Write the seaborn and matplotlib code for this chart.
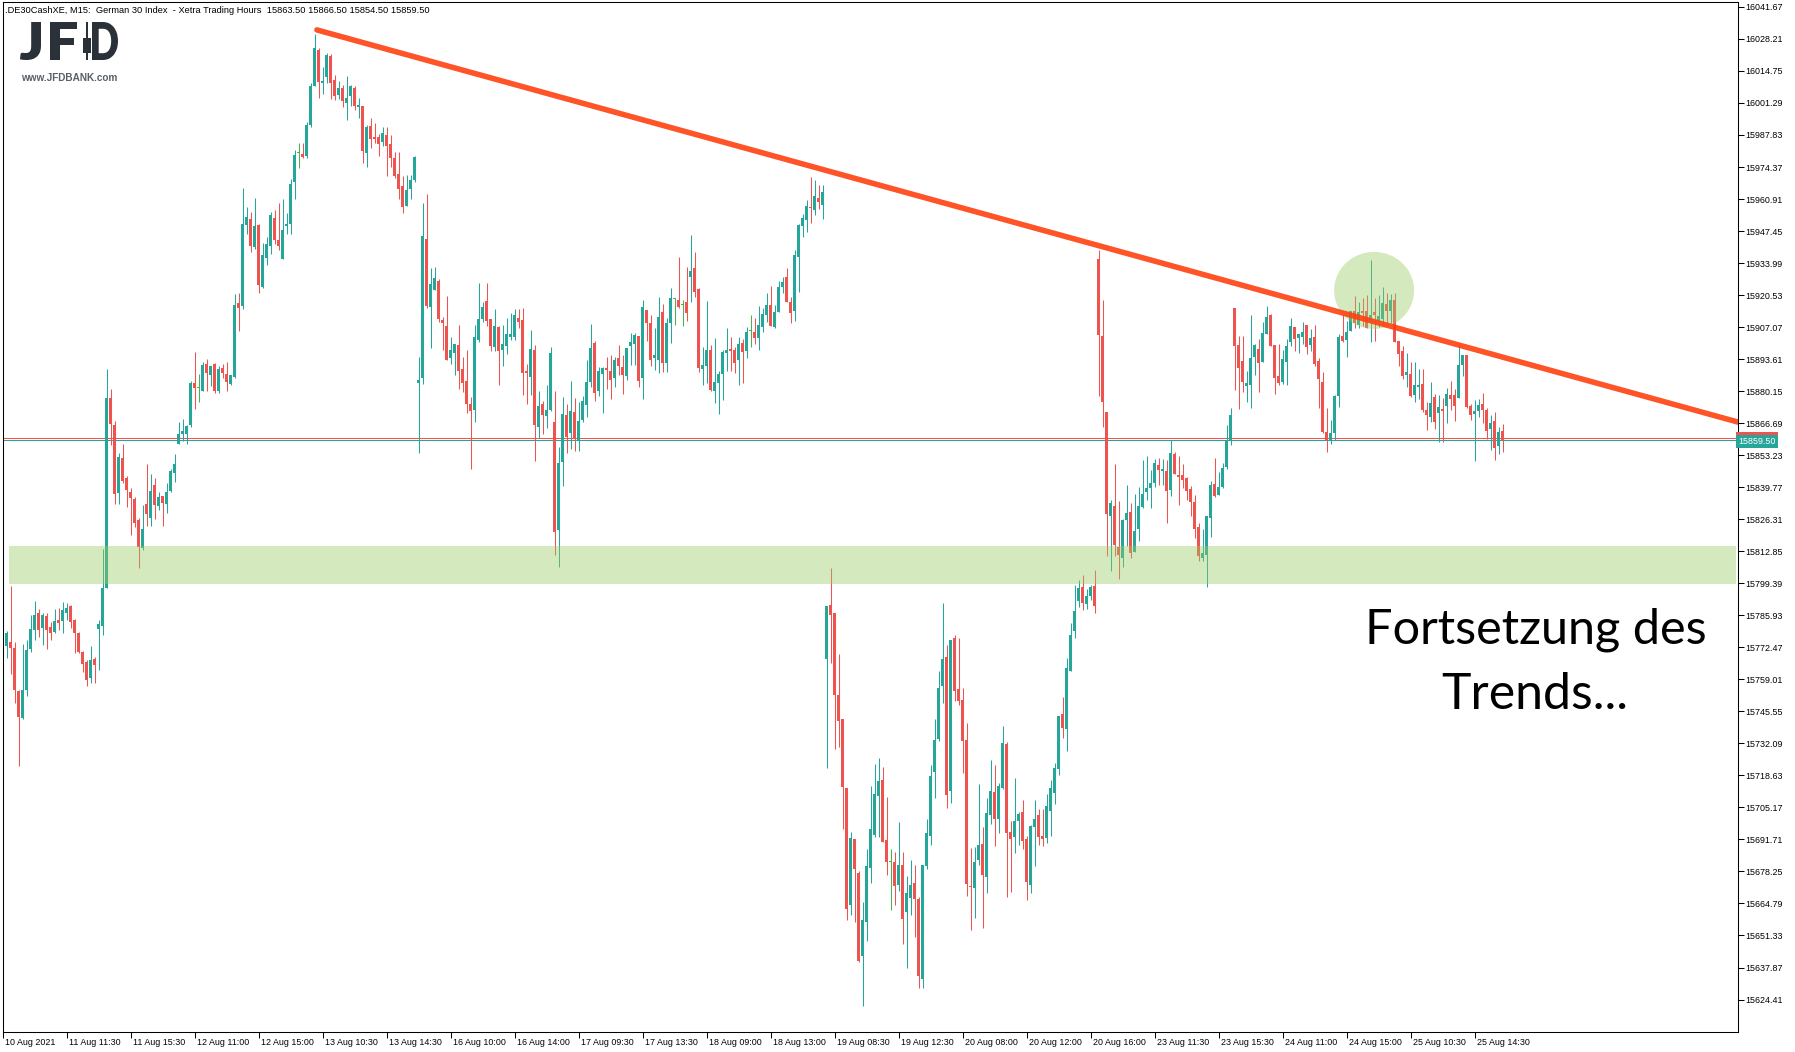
import numpy as np
import pandas as pd
import matplotlib
matplotlib.use("Agg")
import matplotlib.pyplot as plt
import seaborn as sns
from matplotlib.patches import Ellipse, Rectangle, PathPatch
from matplotlib.transforms import (ScaledTranslation, blended_transform_factory,
                                   Affine2D, IdentityTransform)
from matplotlib.textpath import TextPath
from matplotlib.font_manager import FontProperties

# ---- M15 candles, German 30 (Xetra hours) ----
opens = [
    15782.3, 15773.2, 15774.7, 15772.2, 15754.1, 15742.9, 15754.7, 15771.8, 15779.9, 15786.9,
    15780.7, 15785.8, 15781.0, 15778.9, 15784.1, 15783.7, 15786.9, 15789.8, 15784.1, 15778.6,
    15770.5, 15766.3, 15759.7, 15767.6, 15780.2, 15781.4, 15797.5, 15877.3, 15865.9, 15837.5,
    15852.0, 15843.6, 15837.8, 15834.8, 15826.0, 15814.4, 15832.9, 15827.0, 15840.7, 15832.0,
    15836.1, 15832.9, 15838.3, 15845.9, 15858.1, 15862.3, 15862.3, 15865.9, 15883.6, 15881.3,
    15880.4, 15891.6, 15887.1, 15891.4, 15880.2, 15889.9, 15887.4, 15883.2, 15886.1, 15917.2,
    15915.9, 15950.0, 15952.5, 15940.7, 15950.0, 15923.9, 15936.1, 15941.2, 15952.9, 15943.7,
    15935.7, 15949.6, 15950.4, 15968.1, 15980.4, 15979.8, 15979.0, 15992.0, 16008.4, 16023.6,
    16009.7, 16012.2, 16021.0, 16010.9, 16004.6, 16007.6, 16001.3, 16004.2, 16007.6, 15999.6,
    16000.0, 15980.3, 15991.6, 15987.0, 15987.0, 15984.9, 15987.8, 15984.0, 15978.2, 15971.4,
    15966.4, 15958.0, 15965.1, 15968.9, 15883.7, 15885.7, 15944.1, 15915.7, 15922.8, 15926.5,
    15910.1, 15907.5, 15894.2, 15896.3, 15899.5, 15889.5, 15884.4, 15874.7, 15872.4, 15901.7,
    15910.5, 15918.0, 15910.5, 15898.8, 15907.1, 15897.6, 15899.1, 15903.1, 15903.1, 15911.0,
    15910.1, 15888.6, 15886.2, 15897.4, 15865.2, 15874.7, 15869.8, 15872.4, 15867.2, 15821.9,
    15850.5, 15870.1, 15862.7, 15871.4, 15859.8, 15868.0, 15874.5, 15884.1, 15900.4, 15880.4,
    15887.5, 15889.9, 15888.6, 15885.8, 15894.1, 15890.4, 15886.7, 15899.3, 15900.1, 15903.3,
    15885.8, 15914.4, 15908.8, 15893.9, 15893.2, 15913.5, 15891.8, 15908.8, 15918.8, 15918.3,
    15916.4, 15917.6, 15928.0, 15931.9, 15923.1, 15889.5, 15890.9, 15897.5, 15880.3, 15883.5,
    15887.2, 15896.2, 15897.8, 15897.5, 15893.2, 15900.5, 15896.9, 15905.4, 15904.9, 15902.4,
    15907.2, 15912.1, 15916.4, 15907.2, 15913.5, 15923.8, 15928.2, 15917.6, 15913.7, 15936.5,
    15949.4, 15952.2, 15957.5, 15956.1, 15961.4, 15958.6, 15767.7, 15790.3, 15786.9, 15752.3,
    15742.4, 15713.3, 15664.0, 15691.9, 15677.6, 15642.6, 15657.2, 15679.8, 15693.4, 15710.1,
    15716.8, 15691.5, 15682.3, 15682.1, 15672.5, 15680.9, 15661.4, 15667.1, 15673.3, 15666.7,
    15633.2, 15680.5, 15693.0, 15720.2, 15734.0, 15756.4, 15768.5, 15712.2, 15776.4, 15754.9,
    15750.5, 15733.4, 15672.3, 15671.5, 15683.0, 15689.9, 15676.1, 15701.8, 15711.6, 15700.3,
    15713.5, 15731.9, 15694.9, 15692.8, 15699.5, 15703.2, 15692.0, 15672.7, 15697.0, 15702.0,
    15693.0, 15692.2, 15703.5, 15711.4, 15721.2, 15744.4, 15738.0, 15762.6, 15779.4, 15792.0,
    15798.0, 15790.5, 15794.0, 15798.3, 15935.7, 15903.2, 15871.4, 15827.8, 15831.9, 15814.6,
    15810.2, 15826.0, 15829.3, 15812.7, 15822.3, 15831.6, 15837.9, 15839.4, 15841.5, 15849.1,
    15846.6, 15846.6, 15838.7, 15853.7, 15844.9, 15844.9, 15843.6, 15839.2, 15833.6, 15823.2,
    15810.2, 15811.3, 15827.0, 15841.1, 15836.5, 15839.9, 15848.3, 15859.2, 15915.1, 15899.5,
    15892.8, 15882.5, 15882.9, 15894.4, 15897.9, 15892.4, 15904.2, 15912.2, 15899.5, 15886.7,
    15884.1, 15892.4, 15900.9, 15907.1, 15902.5, 15902.9, 15908.0, 15899.5, 15902.9, 15892.8,
    15884.0, 15863.0, 15859.6, 15862.7, 15878.2, 15903.3, 15901.6, 15905.4, 15913.8, 15908.0,
    15913.8, 15913.8, 15910.1, 15913.4, 15909.5, 15910.5, 15916.8, 15913.8, 15918.5, 15901.2,
    15897.0, 15887.1, 15887.4, 15878.5, 15881.9, 15883.2, 15872.2, 15869.1, 15877.7, 15871.0,
    15872.6, 15873.9, 15878.7, 15878.7, 15877.3, 15891.1, 15895.3, 15873.9, 15870.5, 15871.7,
    15874.7, 15872.2, 15864.2, 15867.6, 15857.1, 15863.5,
]
highs = [
    15782.5, 15779.3, 15798.2, 15774.7, 15754.5, 15773.9, 15775.5, 15786.1, 15791.9, 15788.6,
    15786.9, 15786.9, 15783.1, 15788.6, 15789.0, 15791.5, 15791.1, 15790.1, 15784.4, 15779.0,
    15770.9, 15767.1, 15773.2, 15768.4, 15784.1, 15813.8, 15889.5, 15881.1, 15867.6, 15854.2,
    15857.9, 15844.6, 15839.4, 15835.8, 15827.0, 15832.4, 15849.5, 15845.3, 15843.6, 15837.8,
    15836.1, 15841.5, 15847.3, 15853.7, 15867.2, 15868.4, 15865.9, 15884.4, 15896.6, 15887.4,
    15892.4, 15893.7, 15890.7, 15891.8, 15890.7, 15891.4, 15892.4, 15886.9, 15921.0, 15921.4,
    15965.5, 15957.6, 15955.5, 15961.3, 15950.4, 15942.4, 15944.9, 15955.5, 15956.3, 15959.2,
    15960.9, 15955.0, 15969.3, 15981.5, 15984.5, 15984.5, 15993.3, 16009.7, 16030.3, 16024.4,
    16016.4, 16022.3, 16021.9, 16013.0, 16010.5, 16008.8, 16012.6, 16008.8, 16008.4, 16003.4,
    16000.0, 15992.0, 15995.0, 15992.9, 15988.2, 15991.2, 15991.2, 15987.8, 15980.7, 15980.7,
    15970.6, 15971.0, 15971.0, 15979.0, 15894.5, 15959.2, 15963.0, 15931.9, 15932.3, 15927.3,
    15911.3, 15920.1, 15902.9, 15900.0, 15908.0, 15894.5, 15897.4, 15877.7, 15908.0, 15925.6,
    15917.6, 15925.6, 15910.5, 15914.7, 15907.5, 15908.0, 15910.9, 15913.0, 15914.7, 15914.7,
    15915.1, 15891.6, 15905.9, 15899.5, 15880.2, 15876.0, 15882.7, 15898.7, 15880.2, 15856.7,
    15877.7, 15874.9, 15884.4, 15877.3, 15875.7, 15878.1, 15893.2, 15908.4, 15901.2, 15890.3,
    15890.3, 15894.5, 15895.3, 15894.5, 15899.5, 15895.3, 15898.3, 15904.7, 15904.7, 15903.3,
    15918.5, 15914.4, 15912.3, 15906.5, 15919.7, 15916.7, 15910.9, 15923.6, 15919.2, 15936.5,
    15918.3, 15932.4, 15945.7, 15938.8, 15923.6, 15898.7, 15918.1, 15899.4, 15902.4, 15888.6,
    15897.3, 15906.8, 15902.8, 15898.7, 15902.8, 15902.2, 15907.2, 15912.1, 15910.9, 15916.0,
    15915.3, 15921.5, 15924.3, 15916.2, 15926.4, 15928.0, 15931.9, 15919.7, 15939.3, 15950.6,
    15954.5, 15960.3, 15970.2, 15969.0, 15966.7, 15966.7, 15789.9, 15805.8, 15786.9, 15769.6,
    15742.4, 15713.3, 15694.9, 15691.9, 15678.5, 15665.6, 15687.6, 15714.3, 15723.3, 15726.0,
    15722.1, 15709.5, 15687.8, 15686.5, 15699.1, 15686.5, 15676.3, 15683.2, 15681.1, 15667.7,
    15681.1, 15700.1, 15723.1, 15742.3, 15762.4, 15790.9, 15773.5, 15775.4, 15777.7, 15776.4,
    15755.3, 15740.7, 15688.2, 15688.6, 15715.2, 15696.8, 15709.1, 15725.2, 15723.1, 15715.6,
    15739.4, 15732.5, 15699.5, 15717.7, 15703.2, 15708.3, 15693.2, 15697.8, 15708.3, 15704.3,
    15704.3, 15710.8, 15716.6, 15723.7, 15743.6, 15751.5, 15768.1, 15782.7, 15798.8, 15800.8,
    15802.9, 15797.0, 15798.7, 15805.0, 15939.5, 15918.5, 15871.4, 15834.4, 15849.5, 15834.0,
    15826.4, 15840.7, 15833.1, 15836.9, 15839.9, 15851.2, 15852.9, 15847.0, 15851.6, 15852.0,
    15851.6, 15851.2, 15859.6, 15854.6, 15852.9, 15849.5, 15844.1, 15840.4, 15836.5, 15824.9,
    15822.2, 15827.7, 15842.4, 15852.0, 15846.2, 15849.9, 15865.9, 15873.1, 15915.1, 15903.3,
    15903.3, 15888.6, 15912.2, 15900.0, 15902.1, 15909.2, 15915.9, 15912.6, 15899.5, 15900.0,
    15897.4, 15902.1, 15910.8, 15907.1, 15904.2, 15909.2, 15908.0, 15906.3, 15908.0, 15894.1,
    15888.2, 15873.1, 15868.0, 15878.5, 15904.2, 15912.2, 15909.6, 15913.8, 15920.1, 15917.6,
    15919.3, 15920.6, 15935.3, 15919.3, 15920.6, 15923.9, 15921.4, 15921.0, 15921.4, 15901.2,
    15899.1, 15896.2, 15892.4, 15892.4, 15889.5, 15889.5, 15875.6, 15884.0, 15878.9, 15878.5,
    15877.3, 15881.5, 15884.4, 15881.2, 15900.1, 15895.3, 15895.3, 15874.6, 15876.4, 15876.8,
    15879.4, 15873.1, 15870.0, 15871.4, 15865.1, 15866.5,
]
lows = [
    15771.6, 15768.1, 15761.1, 15748.9, 15722.7, 15742.5, 15752.1, 15770.6, 15775.7, 15776.7,
    15773.6, 15771.9, 15775.7, 15778.5, 15779.9, 15778.5, 15784.1, 15780.7, 15770.1, 15770.1,
    15762.1, 15756.3, 15757.5, 15757.5, 15762.9, 15777.8, 15797.5, 15857.5, 15832.9, 15832.9,
    15841.7, 15831.6, 15819.8, 15823.2, 15805.9, 15813.5, 15823.6, 15823.6, 15826.5, 15830.2,
    15823.6, 15828.9, 15837.8, 15842.0, 15858.1, 15859.2, 15858.1, 15865.1, 15872.8, 15875.7,
    15880.4, 15880.4, 15882.3, 15879.2, 15879.2, 15885.8, 15880.2, 15882.7, 15885.7, 15905.4,
    15914.7, 15946.2, 15938.6, 15939.9, 15921.4, 15923.5, 15933.2, 15937.8, 15942.0, 15939.5,
    15935.7, 15946.2, 15946.2, 15960.9, 15974.0, 15978.2, 15978.2, 15991.2, 16008.4, 16003.4,
    16005.1, 16009.7, 16003.0, 16002.5, 16003.0, 15999.6, 15994.1, 16000.0, 15998.3, 15995.0,
    15976.1, 15974.4, 15982.4, 15984.5, 15979.0, 15983.2, 15970.6, 15974.4, 15969.7, 15960.9,
    15955.0, 15958.0, 15960.9, 15968.1, 15854.1, 15883.2, 15915.1, 15898.4, 15922.7, 15909.2,
    15897.6, 15893.4, 15891.7, 15886.9, 15881.2, 15879.9, 15871.1, 15847.6, 15867.3, 15900.8,
    15909.4, 15907.5, 15897.2, 15897.2, 15882.9, 15890.9, 15895.9, 15901.7, 15901.8, 15906.8,
    15878.7, 15874.9, 15878.7, 15850.9, 15860.6, 15862.3, 15864.8, 15872.0, 15811.4, 15806.4,
    15840.4, 15854.3, 15856.0, 15855.1, 15855.1, 15867.3, 15869.4, 15882.0, 15876.2, 15878.1,
    15871.1, 15881.2, 15877.0, 15882.0, 15886.9, 15879.1, 15885.0, 15891.1, 15891.1, 15882.0,
    15877.0, 15901.2, 15890.9, 15889.0, 15887.6, 15888.3, 15888.3, 15900.3, 15908.1, 15915.1,
    15907.5, 15909.8, 15917.8, 15919.7, 15888.3, 15882.6, 15883.5, 15880.3, 15875.0, 15870.6,
    15876.6, 15888.8, 15888.8, 15887.9, 15882.6, 15883.5, 15893.9, 15898.7, 15899.9, 15897.5,
    15904.9, 15909.1, 15907.5, 15906.5, 15913.5, 15921.5, 15917.6, 15908.8, 15909.8, 15921.8,
    15944.8, 15947.1, 15950.8, 15954.0, 15956.8, 15952.6, 15721.6, 15765.7, 15729.9, 15730.4,
    15696.3, 15657.8, 15660.1, 15656.9, 15640.0, 15621.7, 15648.9, 15673.3, 15692.6, 15692.6,
    15690.7, 15676.7, 15662.1, 15664.1, 15670.0, 15647.8, 15637.8, 15660.0, 15650.5, 15629.4,
    15629.4, 15679.4, 15689.2, 15709.3, 15732.9, 15749.2, 15705.1, 15707.0, 15750.1, 15748.4,
    15719.8, 15668.1, 15653.7, 15658.7, 15681.1, 15654.3, 15669.2, 15698.0, 15689.0, 15694.3,
    15712.7, 15667.7, 15669.4, 15685.9, 15689.4, 15687.6, 15666.2, 15669.2, 15680.5, 15689.2,
    15688.8, 15690.1, 15693.0, 15706.4, 15718.7, 15734.4, 15729.0, 15762.4, 15776.2, 15789.5,
    15788.0, 15788.5, 15792.5, 15787.0, 15878.2, 15865.2, 15811.0, 15804.7, 15811.0, 15801.3,
    15806.4, 15815.2, 15810.2, 15812.7, 15817.0, 15831.2, 15834.5, 15831.2, 15839.9, 15840.7,
    15840.7, 15824.7, 15836.2, 15845.5, 15832.3, 15839.6, 15834.4, 15827.8, 15818.6, 15808.9,
    15808.9, 15798.0, 15818.8, 15835.7, 15836.5, 15839.4, 15847.4, 15857.5, 15880.8, 15872.6,
    15879.9, 15875.7, 15873.2, 15887.1, 15879.9, 15892.4, 15904.2, 15899.3, 15879.1, 15882.9,
    15883.3, 15882.9, 15899.1, 15897.0, 15896.2, 15900.0, 15895.8, 15897.0, 15890.7, 15873.1,
    15862.6, 15854.6, 15857.9, 15859.6, 15873.6, 15900.8, 15894.6, 15905.4, 15906.7, 15906.7,
    15907.5, 15906.7, 15900.8, 15901.2, 15907.3, 15908.0, 15908.0, 15908.8, 15900.8, 15890.7,
    15885.3, 15881.9, 15877.7, 15875.6, 15876.8, 15871.4, 15863.8, 15867.2, 15864.2, 15858.8,
    15858.8, 15866.8, 15872.2, 15867.6, 15877.3, 15886.5, 15873.1, 15868.0, 15850.8, 15869.3,
    15866.8, 15860.0, 15855.4, 15851.2, 15853.7, 15854.5,
]
closes = [
    15772.0, 15778.6, 15772.3, 15754.7, 15743.3, 15754.5, 15771.3, 15780.2, 15786.1, 15779.9,
    15786.1, 15779.9, 15778.5, 15783.5, 15782.7, 15788.2, 15789.0, 15783.1, 15778.5, 15770.5,
    15765.5, 15758.9, 15767.1, 15765.0, 15782.3, 15797.4, 15877.3, 15866.5, 15837.1, 15852.5,
    15842.5, 15838.7, 15835.4, 15824.9, 15814.8, 15822.2, 15828.6, 15838.2, 15832.4, 15835.7,
    15833.3, 15837.8, 15846.6, 15849.5, 15862.1, 15863.4, 15865.5, 15883.6, 15881.6, 15881.3,
    15891.1, 15887.9, 15890.7, 15880.4, 15889.5, 15887.8, 15884.0, 15886.9, 15916.4, 15915.1,
    15950.4, 15953.4, 15941.2, 15949.6, 15924.8, 15937.4, 15942.0, 15954.2, 15943.7, 15941.2,
    15947.9, 15950.4, 15967.2, 15979.4, 15980.4, 15978.6, 15992.0, 16008.4, 16024.4, 16010.1,
    16010.5, 16021.5, 16009.7, 16004.2, 16007.6, 16002.1, 16003.4, 16008.4, 16000.0, 16000.4,
    15981.1, 15991.2, 15986.1, 15986.1, 15984.0, 15988.7, 15983.2, 15978.2, 15970.6, 15965.1,
    15957.6, 15964.7, 15968.9, 15978.6, 15884.8, 15945.4, 15915.9, 15925.2, 15927.7, 15910.5,
    15908.9, 15893.4, 15897.4, 15900.0, 15888.8, 15883.7, 15874.9, 15871.9, 15902.9, 15910.5,
    15915.5, 15909.8, 15899.3, 15907.5, 15897.2, 15900.0, 15904.2, 15904.2, 15912.2, 15909.4,
    15887.9, 15887.9, 15897.9, 15866.1, 15873.9, 15870.3, 15872.2, 15896.2, 15821.1, 15849.9,
    15870.5, 15861.0, 15871.8, 15860.5, 15867.6, 15876.0, 15884.0, 15898.3, 15879.5, 15888.6,
    15889.9, 15889.2, 15885.0, 15893.2, 15890.9, 15886.9, 15898.3, 15900.8, 15903.6, 15884.6,
    15915.5, 15908.8, 15893.2, 15895.2, 15911.4, 15892.0, 15908.8, 15919.2, 15918.8, 15915.5,
    15916.4, 15913.2, 15930.7, 15922.0, 15889.9, 15891.1, 15897.5, 15880.5, 15883.9, 15887.2,
    15896.4, 15897.5, 15896.9, 15892.0, 15900.1, 15896.4, 15904.9, 15905.4, 15902.4, 15907.9,
    15912.5, 15916.2, 15907.5, 15913.5, 15923.8, 15926.1, 15917.8, 15912.8, 15937.4, 15950.1,
    15952.9, 15957.9, 15957.0, 15962.1, 15959.8, 15963.9, 15789.9, 15786.2, 15752.3, 15741.5,
    15713.8, 15662.6, 15692.4, 15679.2, 15640.7, 15657.7, 15680.7, 15695.9, 15710.6, 15716.4,
    15690.7, 15682.3, 15682.3, 15672.3, 15681.1, 15658.3, 15669.2, 15672.7, 15666.7, 15634.2,
    15681.1, 15694.3, 15718.5, 15733.4, 15755.3, 15767.6, 15710.4, 15775.4, 15754.3, 15750.1,
    15732.9, 15673.1, 15671.7, 15682.3, 15689.2, 15676.9, 15702.8, 15712.2, 15700.3, 15714.1,
    15732.3, 15694.3, 15692.0, 15699.5, 15702.4, 15691.1, 15674.0, 15697.4, 15700.1, 15692.8,
    15691.7, 15705.8, 15713.3, 15721.9, 15743.6, 15738.6, 15763.9, 15777.7, 15787.7, 15797.5,
    15791.0, 15794.0, 15798.0, 15790.0, 15903.8, 15875.7, 15828.5, 15833.0, 15815.5, 15811.3,
    15826.0, 15828.9, 15812.3, 15821.4, 15831.9, 15836.9, 15839.4, 15841.5, 15849.9, 15847.0,
    15847.4, 15838.2, 15854.1, 15845.5, 15844.1, 15842.8, 15838.3, 15833.6, 15822.3, 15811.0,
    15812.1, 15827.7, 15840.7, 15836.1, 15839.9, 15847.8, 15859.6, 15870.1, 15899.1, 15890.0,
    15884.1, 15883.6, 15894.1, 15899.5, 15892.1, 15904.6, 15911.3, 15899.3, 15885.8, 15883.7,
    15893.7, 15899.1, 15907.5, 15902.1, 15904.2, 15905.0, 15898.7, 15902.5, 15891.6, 15885.3,
    15863.0, 15859.6, 15862.6, 15878.2, 15902.9, 15901.2, 15905.0, 15913.8, 15908.8, 15913.4,
    15913.0, 15906.7, 15912.2, 15912.2, 15911.7, 15917.2, 15913.8, 15918.5, 15900.8, 15895.8,
    15886.5, 15888.2, 15878.1, 15882.7, 15882.7, 15872.1, 15870.1, 15875.2, 15867.2, 15873.5,
    15871.8, 15878.9, 15876.8, 15873.9, 15891.1, 15895.3, 15873.5, 15870.1, 15871.8, 15874.3,
    15872.2, 15863.4, 15866.8, 15856.3, 15863.0, 15859.5,
]

time_labels = [
    "10 Aug 2021", "11 Aug 11:30", "11 Aug 15:30", "12 Aug 11:00", "12 Aug 15:00",
    "13 Aug 10:30", "13 Aug 14:30", "16 Aug 10:00", "16 Aug 14:00", "17 Aug 09:30",
    "17 Aug 13:30", "18 Aug 09:00", "18 Aug 13:00", "19 Aug 08:30", "19 Aug 12:30",
    "20 Aug 08:00", "20 Aug 12:00", "20 Aug 16:00", "23 Aug 11:30", "23 Aug 15:30",
    "24 Aug 11:00", "24 Aug 15:00", "25 Aug 10:30", "25 Aug 14:30",
]
price_levels = [
    15624.41, 15637.87, 15651.33, 15664.79, 15678.25, 15691.71, 15705.17, 15718.63,
    15732.09, 15745.55, 15759.01, 15772.47, 15785.93, 15799.39, 15812.85, 15826.31,
    15839.77, 15853.23, 15866.69, 15880.15, 15893.61, 15907.07, 15920.53, 15933.99,
    15947.45, 15960.91, 15974.37, 15987.83, 16001.29, 16014.75, 16028.21, 16041.67,
]
bid_price = 15859.50
ask_price = 15860.35
support_zone = (15798.9, 15815.2)
trendline_bars = [78.6, 440.0]
trendline_prices = [16032.0, 15867.6 - 0.4641 * (440.0 - 432.9)]
focus_bar, focus_price = 342.9, 15922.5

df = pd.DataFrame({"open": opens, "high": highs, "low": lows, "close": closes})
df["bar"] = np.arange(len(df))

W, H = 1795, 1052
UP, DOWN, FLAT = "#26A69A", "#EF5350", "#4CAF50"
TEXT_FONT = ["Liberation Sans", "DejaVu Sans"]

sns.set_theme(style="white")
plt.rcParams["font.family"] = TEXT_FONT

fig = plt.figure(figsize=(W / 100, H / 100), dpi=100, facecolor="white")
ax_left, ax_right = 2.5 / W, 1737.5 / W
ax_top, ax_bottom = 1.5 / H, 1031.5 / H
ax = fig.add_axes([ax_left, 1 - ax_bottom, ax_right - ax_left, ax_bottom - ax_top])


def px_to_price(py):
    return 16041.67 - (py - 6.9) * 0.42036


ax.set_xlim(0, (1737.5 - 2.5) / 4)
ax.set_ylim(px_to_price(1031.5), px_to_price(1.5))

# bid / ask lines under the candles
ax.axhline(ask_price, color=DOWN, lw=0.75, zorder=1)
ax.axhline(bid_price, color=UP, lw=0.75, zorder=1)

# candles
colors = np.where(df["close"] > df["open"], UP,
                  np.where(df["close"] < df["open"], DOWN, FLAT))
ax.vlines(df["bar"], df["low"], df["high"], colors=colors, lw=0.75, zorder=2)
body_low = np.minimum(df["open"], df["close"])
body_h = np.maximum((df["close"] - df["open"]).abs(), 0.42)
ax.bar(df["bar"], body_h, bottom=body_low, width=0.75, color=colors,
       linewidth=0, zorder=2.5)

# support zone, highlight circle and falling trend line
ax.add_patch(Rectangle((1.6, support_zone[0]), 433.4 - 1.6,
                       support_zone[1] - support_zone[0],
                       facecolor="#9CCC65", alpha=0.42, edgecolor="none", zorder=3))
ax.add_patch(Ellipse((focus_bar, focus_price), 20.0, 32.4,
                     facecolor="#9CCC65", alpha=0.42, edgecolor="none", zorder=3))
sns.lineplot(x=trendline_bars, y=trendline_prices, ax=ax, color="#FF4010",
             lw=4.0, alpha=0.9, zorder=4, solid_capstyle="round")

# frame and axes styling
for s in ax.spines.values():
    s.set_visible(True)
    s.set_color("black")
    s.set_linewidth(0.75)

ax.yaxis.tick_right()
ax.set_yticks(price_levels)
ax.set_yticklabels([f"{p:.2f}" for p in price_levels])
ax.tick_params(axis="y", which="both", direction="out", length=4, width=0.75,
               pad=1.5, labelsize=6.4, colors="black", right=True, left=False)

tick_bars = list(range(0, 16 * len(time_labels), 16))
ax.set_xticks(tick_bars)
ax.set_xticklabels(time_labels)
ax.tick_params(axis="x", which="both", direction="out", length=4, width=0.75,
               pad=1.0, labelsize=6.4, colors="black", bottom=True)
shift = ScaledTranslation(2.5 / 100, 0, fig.dpi_scale_trans)
for lab in ax.get_xticklabels():
    lab.set_horizontalalignment("left")
    lab.set_transform(lab.get_transform() + shift)
ax.set_xlabel("")
ax.set_ylabel("")
ax.grid(False)

# price tags on the right scale
tag_tr = blended_transform_factory(ax.transAxes, ax.transData)
ax.text(1.0003, ask_price, "15859.50", transform=tag_tr, fontsize=6.4,
        color=DOWN, va="center", ha="left", clip_on=False, zorder=6,
        bbox=dict(boxstyle="square,pad=0.25", fc=DOWN, ec="none"))
ax.text(1.0003, bid_price - 0.6, "15859.50", transform=tag_tr, fontsize=6.4,
        color="white", va="center", ha="left", clip_on=False, zorder=7,
        bbox=dict(boxstyle="square,pad=0.25", fc=UP, ec="none"))

# header line
fig.text(5 / W, 1 - 13 / H,
         ".DE30CashXE, M15:  German 30 Index  - Xetra Trading Hours  "
         "15863.50 15866.50 15854.50 15859.50",
         fontsize=6.65, color="black", ha="left", va="baseline")

# JFD logo: glyph outlines fitted into pixel boxes, plus a candle mark
logo_col = "#2B3138"
logo_fp = FontProperties(family=["Lato", "DejaVu Sans"], weight="heavy")


def logo_letter(ch, x0, x1, y_top, y_bot):
    tp = TextPath((0, 0), ch, size=100, prop=logo_fp)
    ext = tp.get_extents()
    tr = (Affine2D().translate(-ext.x0, -ext.y0)
          .scale((x1 - x0) / ext.width, (y_bot - y_top) / ext.height)
          .translate(x0, H - y_bot))
    fig.add_artist(PathPatch(tr.transform_path(tp), facecolor=logo_col,
                             edgecolor="none", transform=IdentityTransform()))


logo_letter("J", 20, 41, 22, 60)
logo_letter("F", 50, 77, 22, 60)
logo_letter("D", 92, 118, 22, 60)
fig.add_artist(Rectangle((85.5, H - 60), 2, 38, facecolor=logo_col,
                         edgecolor="none", transform=IdentityTransform()))
fig.add_artist(Rectangle((82.5, H - 53), 8, 15, facecolor=logo_col,
                         edgecolor="none", transform=IdentityTransform()))
fig.text(21 / W, 1 - 81 / H, "www.JFDBANK.com", fontsize=7.2,
         fontweight="bold", color="#5A6068", ha="left", va="baseline")

# annotation
note_font = ["Lato", "DejaVu Sans"]
fig.text(1536 / W, 1 - 630 / H, "Fortsetzung des", fontsize=35,
         family=note_font, color="black", ha="center", va="center")
fig.text(1535 / W, 1 - 695 / H, "Trends...", fontsize=36,
         family=note_font, color="black", ha="center", va="center")

fig.savefig("out.png", dpi=100, facecolor="white")
